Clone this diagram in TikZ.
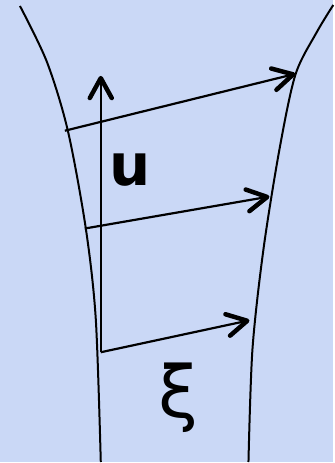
\documentclass[tikz,border=0pt]{standalone}
\usepackage{fontspec}
\usetikzlibrary{arrows.meta}
\newfontfamily\labelfont{DejaVu Sans}
\definecolor{paper}{RGB}{202,216,246}

\begin{document}
\begin{tikzpicture}[
    x=1pt, y=-1pt,
    wall/.style={line width=2pt},
    vec/.style={line width=2.2pt, -{Straight Barb[length=20pt,width=22pt,line width=4.5pt,round]}},
    every node/.style={inner sep=0pt}
]
\fill[paper] (0,0) rectangle (334,463);
\draw[wall] plot[smooth] coordinates {(20,6) (47,62) (68,131) (86,229) (96,320) (101,463)};
\draw[wall] plot[smooth] coordinates {(334,5) (317,33) (296,75) (280,150) (264,250) (253,350) (249,463)};

\coordinate (base) at (101,353);
\coordinate (top) at (101,76);
\coordinate (s1) at (65,131);
\coordinate (t1) at (296,74);
\coordinate (s2) at (85,229);
\coordinate (t2) at (270,197);
\coordinate (t3) at (250,321);

\draw[vec] (base) -- (top);
\draw[vec] (s1) -- (t1);
\draw[vec] (s2) -- (t2);
\draw[vec] (base) -- (t3);

\node (u) at (130,170) {\labelfont\bfseries\fontsize{58}{58}\selectfont u};
\node (xi) at (179,399) {\labelfont\fontsize{72}{72}\selectfont ξ};
\end{tikzpicture}
\end{document}
